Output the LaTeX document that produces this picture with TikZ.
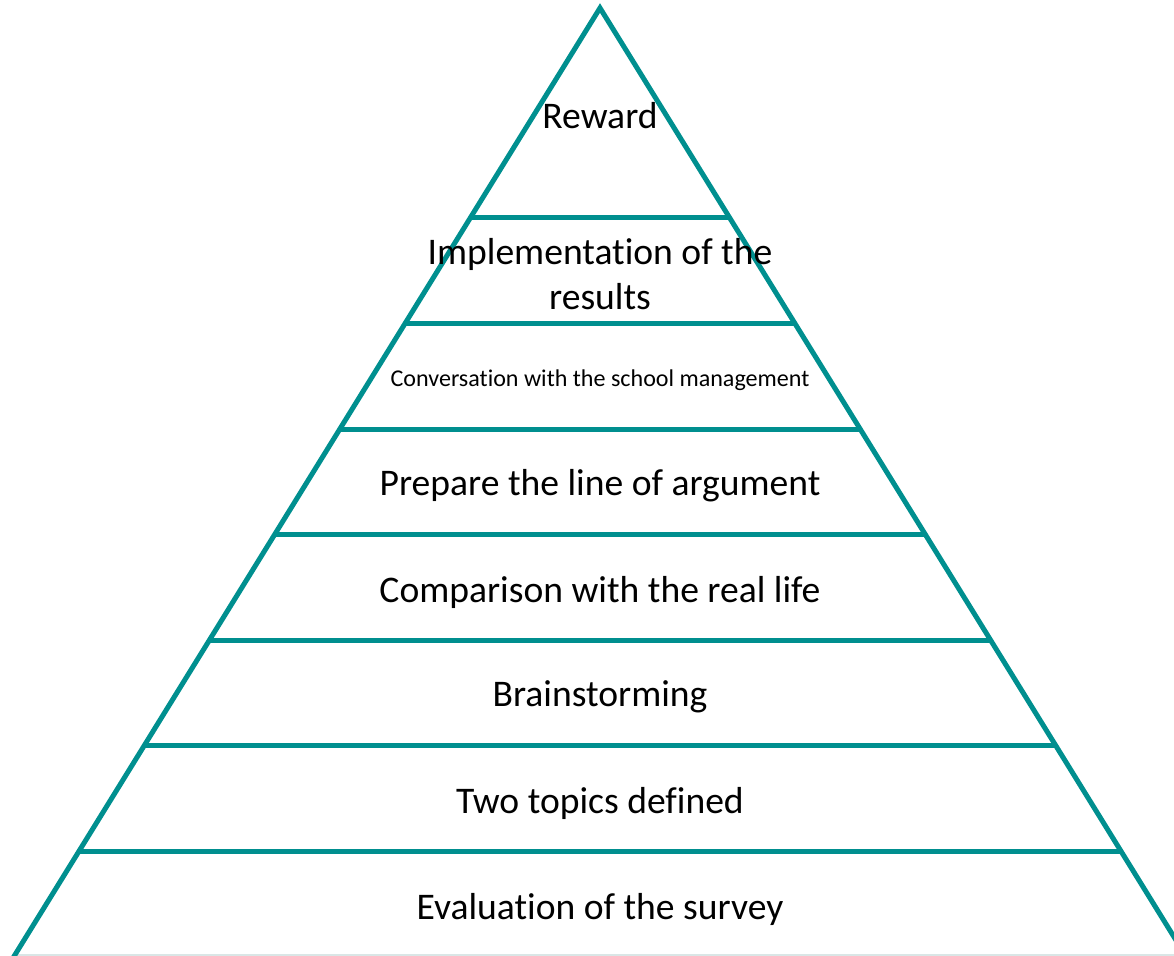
\documentclass[tikz,border=0pt]{standalone}
\usepackage{fontspec}
\setmainfont{Carlito}[Ligatures=NoCommon]
\usetikzlibrary{calc}
\definecolor{pyrteal}{RGB}{0,143,143}
\definecolor{floorgray}{RGB}{218,230,230}
\tikzset{
    edge/.style={draw=pyrteal, line width=2.85pt},
    layer/.style={font=\fontsize{21.4}{26}\selectfont, text=black, align=center, inner sep=0pt},
    smalllayer/.style={layer, font=\fontsize{13.7}{16}\selectfont},
}

\begin{document}
\begin{tikzpicture}[x=0.02cm, y=0.02cm]

    \useasboundingbox (0,0) rectangle (1174,956);
    \clip (0,0) rectangle (1174,956);
    \coordinate (apex) at (600,948);
    \coordinate (bl) at (13,-2);
    \coordinate (br) at (1187,-2);
    \coordinate (floorl) at (15,1);
    \coordinate (floorr) at (1174,1);
    \draw[floorgray, line width=1pt] (floorl) -- (floorr);
    \draw[edge] (bl) -- (apex) -- (br);
    \foreach \y in {218,324,430,535,641,746,852} {
        \draw[edge] ($(apex)!{(\y-8)/950}!(bl)$) -- ($(apex)!{(\y-8)/950}!(br)$);
    }
    \node[layer] (reward) at (600,840) {Reward};
    \node[layer] (implement) at (600,682) {Implementation of the\\results};
    \node[smalllayer] (conversation) at (600,576) {Conversation with the school management};
    \node[layer] (argument) at (600,470) {Prepare the line of argument};
    \node[layer] (compare) at (600,364) {Comparison with the real life};
    \node[layer] (brainstorm) at (600,259) {Brainstorming};
    \node[layer] (topics) at (600,153) {Two topics defined};
    \node[layer] (survey) at (600,47) {Evaluation of the survey};
\end{tikzpicture}
\end{document}
